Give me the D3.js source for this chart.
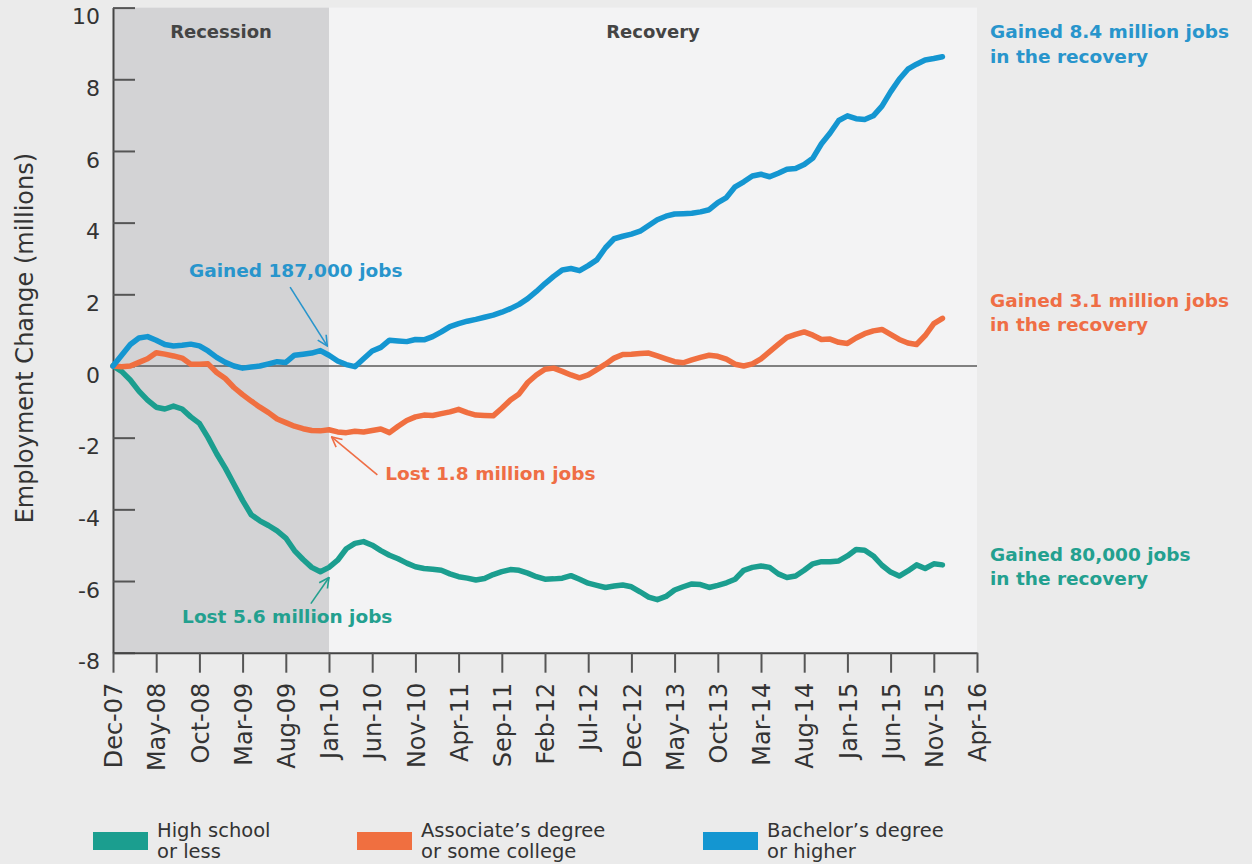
<!DOCTYPE html>
<html>
<head>
<meta charset="utf-8">
<script src="https://cdn.jsdelivr.net/npm/d3@7"></script>
<style>
	body { margin: 0; background: #ebebeb; }
	svg { display: block; font-family: "DejaVu Sans", sans-serif; }
</style>
</head>
<body>
<svg id="chart" width="1252" height="864"></svg>
<script>
//data, monthly from Dec-07, millions of jobs vs Dec-07
var START_MONTH = "Dec-07";
var END_MONTH = "Apr-16";
var RECESSION_END = "Jan-10";
var xTickLabels = ["Dec-07", "May-08", "Oct-08", "Mar-09", "Aug-09", "Jan-10", "Jun-10", "Nov-10", "Apr-11", "Sep-11", "Feb-12",
	"Jul-12", "Dec-12", "May-13", "Oct-13", "Mar-14", "Aug-14", "Jan-15", "Jun-15", "Nov-15", "Apr-16"];
var yTickValues = [-8, -6, -4, -2, 0, 2, 4, 6, 8, 10];

var highSchool = [0, -0.15, -0.39, -0.7, -0.95, -1.15, -1.2, -1.12, -1.2, -1.42,
	-1.6, -2.0, -2.45, -2.85, -3.3, -3.75, -4.15, -4.32, -4.45, -4.6,
	-4.8, -5.15, -5.4, -5.62, -5.74, -5.62, -5.42, -5.1, -4.95, -4.9,
	-5.0, -5.15, -5.28, -5.38, -5.5, -5.6, -5.65, -5.67, -5.7, -5.8,
	-5.88, -5.92, -5.97, -5.93, -5.82, -5.74, -5.68, -5.7, -5.78, -5.88,
	-5.95, -5.94, -5.92, -5.85, -5.95, -6.06, -6.12, -6.18, -6.14, -6.11,
	-6.16, -6.3, -6.45, -6.52, -6.43, -6.25, -6.16, -6.08, -6.1, -6.18,
	-6.12, -6.05, -5.95, -5.7, -5.62, -5.58, -5.62, -5.8, -5.9, -5.86,
	-5.7, -5.52, -5.46, -5.46, -5.44, -5.3, -5.12, -5.14, -5.3, -5.56,
	-5.75, -5.86, -5.72, -5.55, -5.65, -5.52, -5.55];

var associate = [0, -0.02, 0.0, 0.1, 0.2, 0.37, 0.33, 0.28, 0.22, 0.05,
	0.05, 0.06, -0.18, -0.35, -0.6, -0.8, -0.98, -1.15, -1.3, -1.48,
	-1.58, -1.68, -1.75, -1.8, -1.81, -1.78, -1.84, -1.86, -1.82, -1.84,
	-1.8, -1.76, -1.86, -1.68, -1.52, -1.42, -1.37, -1.38, -1.33, -1.28,
	-1.21, -1.3, -1.37, -1.38, -1.39, -1.18, -0.95, -0.78, -0.46, -0.25,
	-0.09, -0.06, -0.15, -0.25, -0.33, -0.25, -0.1, 0.05, 0.22, 0.32,
	0.33, 0.35, 0.36, 0.28, 0.2, 0.12, 0.09, 0.17, 0.24, 0.3,
	0.27, 0.19, 0.05, 0.0, 0.06, 0.2, 0.4, 0.6, 0.8, 0.88,
	0.95, 0.86, 0.74, 0.75, 0.66, 0.63, 0.78, 0.9, 0.98, 1.02,
	0.88, 0.74, 0.64, 0.6, 0.85, 1.18, 1.33];

var bachelor = [0, 0.3, 0.6, 0.78, 0.82, 0.72, 0.6, 0.56, 0.58, 0.61,
	0.56, 0.42, 0.24, 0.1, 0.0, -0.06, -0.03, 0.0, 0.06, 0.12,
	0.1, 0.3, 0.33, 0.36, 0.43, 0.3, 0.14, 0.04, -0.02, 0.2,
	0.42, 0.52, 0.72, 0.7, 0.68, 0.74, 0.73, 0.82, 0.95, 1.1,
	1.18, 1.25, 1.3, 1.36, 1.42, 1.5, 1.6, 1.72, 1.88, 2.08,
	2.3, 2.5, 2.68, 2.72, 2.66, 2.8, 2.96, 3.3, 3.55, 3.62,
	3.68, 3.76, 3.92, 4.08, 4.18, 4.24, 4.25, 4.26, 4.3, 4.36,
	4.56, 4.7, 5.0, 5.14, 5.3, 5.35, 5.28, 5.38, 5.49, 5.51,
	5.62, 5.8, 6.2, 6.5, 6.85, 6.98, 6.9, 6.88, 6.98, 7.25,
	7.65, 8.0, 8.28, 8.42, 8.54, 8.58, 8.63];

var seriesNames = ["High school or less", "Associate\u2019s degree or some college", "Bachelor\u2019s degree or higher"];
var legendLines = [["High school", "or less"], ["Associate\u2019s degree", "or some college"], ["Bachelor\u2019s degree", "or higher"]];
var seriesColors = ["#1b9e8f", "#f06f40", "#1496d1"];
var textColors = ["#23a08f", "#ef6e45", "#2895cc"];


var parseMonth = d3.timeParse("%b-%y");
var start = parseMonth(START_MONTH);
function monthIndex(label) {
	return d3.timeMonth.count(start, parseMonth(label));
}

var svg = d3.select("#chart");
var x = d3.scaleLinear()
	.domain([0, monthIndex(END_MONTH)])
	.range([113, 977]);
var y = d3.scaleLinear()
	.domain([-8, 10])
	.range([652.7, 7.6]);

//plot panel and recession band
svg.append("rect")
	.attr("x", x(0)).attr("y", y(10))
	.attr("width", x(monthIndex(END_MONTH)) - x(0))
	.attr("height", y(-8) - y(10))
	.attr("fill", "#f3f3f4");
svg.append("rect")
	.attr("x", x(0)).attr("y", y(10))
	.attr("width", x(monthIndex(RECESSION_END)) - x(0))
	.attr("height", y(-8) - y(10))
	.attr("fill", "#d3d3d5");

svg.append("text")
	.attr("x", (x(0) + x(monthIndex(RECESSION_END))) / 2).attr("y", 38)
	.attr("text-anchor", "middle").attr("font-size", 18).attr("font-weight", "bold")
	.attr("fill", "#444").text("Recession");
svg.append("text")
	.attr("x", (x(monthIndex(RECESSION_END)) + x(monthIndex(END_MONTH))) / 2).attr("y", 38)
	.attr("text-anchor", "middle").attr("font-size", 18).attr("font-weight", "bold")
	.attr("fill", "#444").text("Recovery");

//zero line
svg.append("line")
	.attr("x1", x(0)).attr("x2", x(monthIndex(END_MONTH)))
	.attr("y1", y(0)).attr("y2", y(0))
	.attr("stroke", "#5a5a5a").attr("stroke-width", 1.5);

// y axis, ticks point into the plot
var yAxis = svg.append("g")
	.attr("class", "y axis")
	.attr("transform", "translate(" + x(0) + ",0)")
	.call(d3.axisLeft(y)
		.tickValues(yTickValues)
		.tickSize(-22)
		.tickSizeOuter(0)
		.tickPadding(13)
		.tickFormat(function(d) { return String(d); }));
yAxis.select(".domain").attr("stroke", "#444").attr("stroke-width", 2);
yAxis.selectAll(".tick line").attr("stroke", "#555").attr("stroke-width", 2);
yAxis.selectAll(".tick text")
	.attr("y", 9)
	.attr("font-size", 22)
	.attr("font-family", "DejaVu Sans")
	.attr("fill", "#333");

svg.append("text")
	.attr("transform", "translate(33," + ((y(-8) + y(10)) / 2 + 8) + ") rotate(-90)")
	.attr("text-anchor", "middle")
	.attr("font-size", 24)
	.attr("fill", "#333")
	.text("Employment Change (millions)");

// x axis
var xAxis = svg.append("g")
	.attr("class", "x axis")
	.attr("transform", "translate(0," + y(-8) + ")")
	.call(d3.axisBottom(x)
		.tickValues(xTickLabels.map(monthIndex))
		.tickSize(20)
		.tickSizeOuter(0)
		.tickFormat(function(d, i) { return xTickLabels[i]; }));
xAxis.select(".domain").attr("stroke", "#444").attr("stroke-width", 2);
xAxis.selectAll(".tick line").attr("stroke", "#555").attr("stroke-width", 2);
xAxis.selectAll(".tick text")
	.attr("transform", "rotate(-90)")
	.attr("x", -30)
	.attr("y", 0)
	.attr("dy", "0.36em")
	.attr("text-anchor", "end")
	.attr("font-size", 24)
	.attr("font-family", "DejaVu Sans")
	.attr("fill", "#333");

// the three lines
var line = d3.line()
	.x(function(d, i) { return x(i); })
	.y(function(d) { return y(d); });
[highSchool, associate, bachelor].forEach(function(vals, k) {
	svg.append("path")
		.datum(vals)
		.attr("class", "line series" + k)
		.attr("fill", "none")
		.attr("stroke", seriesColors[k])
		.attr("stroke-width", 5.5)
		.attr("stroke-linejoin", "round")
		.attr("stroke-linecap", "round")
		.attr("d", line);
});

// arrow heads
var defs = svg.append("defs");
textColors.forEach(function(c, k) {
	defs.append("marker")
		.attr("id", "arrow" + k)
		.attr("viewBox", "0 0 12 12")
		.attr("refX", 11).attr("refY", 6)
		.attr("markerWidth", 12).attr("markerHeight", 12)
		.attr("markerUnits", "userSpaceOnUse")
		.attr("orient", "auto")
		.append("path")
		.attr("d", "M1,1 L11,6 L1,11")
		.attr("fill", "none")
		.attr("stroke", c)
		.attr("stroke-width", 1.6);
});

//annotation anchors in data units (month, millions)
var recessionNotes = [
	{k: 2, text: "Gained 187,000 jobs", tx: 8.8, ty: 2.48, from: [20.5, 2.2], to: [24.8, 0.56]},
	{k: 1, text: "Lost 1.8 million jobs", tx: 31.5, ty: -3.17, from: [30.6, -3.04], to: [25.3, -1.98]},
	{k: 0, text: "Lost 5.6 million jobs", tx: 8.0, ty: -7.17, from: [22.9, -6.63], to: [25, -5.9]}
];
recessionNotes.forEach(function(n) {
	svg.append("text")
		.attr("x", x(n.tx)).attr("y", y(n.ty))
		.attr("font-size", 18.5).attr("font-weight", "bold")
		.attr("fill", textColors[n.k])
		.text(n.text);
	svg.append("line")
		.attr("x1", x(n.from[0])).attr("y1", y(n.from[1]))
		.attr("x2", x(n.to[0])).attr("y2", y(n.to[1]))
		.attr("stroke", textColors[n.k]).attr("stroke-width", 1.6)
		.attr("marker-end", "url(#arrow" + n.k + ")");
});

var recoveryNotes = [
	{k: 2, lines: ["Gained 8.4 million jobs", "in the recovery"], ty: 9.15},
	{k: 1, lines: ["Gained 3.1 million jobs", "in the recovery"], ty: 1.65},
	{k: 0, lines: ["Gained 80,000 jobs", "in the recovery"], ty: -5.44}
];
recoveryNotes.forEach(function(n) {
	var t = svg.append("text")
		.attr("x", 990).attr("y", y(n.ty))
		.attr("font-size", 18.5).attr("font-weight", "bold")
		.attr("fill", textColors[n.k]);
	n.lines.forEach(function(s, j) {
		t.append("tspan").attr("x", 990).attr("dy", j ? 24.5 : 0).text(s);
	});
});

// legend
var legendX = [93, 357, 703];
var legend = svg.append("g").attr("class", "legend");
legendLines.forEach(function(ls, k) {
	var g = legend.append("g").attr("transform", "translate(" + legendX[k] + ",832)");
	g.append("rect")
		.attr("width", 55).attr("height", 18)
		.attr("fill", seriesColors[k]);
	var t = g.append("text")
		.attr("x", 64).attr("y", 5)
		.attr("font-size", 19.5)
		.attr("fill", "#333");
	ls.forEach(function(s, j) {
		t.append("tspan").attr("x", 64).attr("dy", j ? 21 : 0).text(s);
	});
});
</script>
</body>
</html>
